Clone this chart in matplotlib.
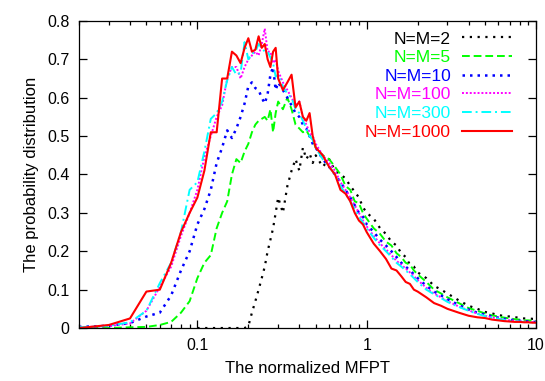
import matplotlib
matplotlib.use("Agg")
import matplotlib.pyplot as plt
from matplotlib.ticker import FixedLocator, FuncFormatter, LogLocator, NullFormatter

plt.rcParams["font.family"] = ["Liberation Sans", "DejaVu Sans"]

nan = float("nan")

# shared x grid (normalized MFPT)
x = [0.02, 0.03, 0.04, 0.05, 0.06, 0.07, 0.08, 0.09, 0.10, 0.11, 0.12, 0.13, 0.14, 0.15,
     0.16, 0.17, 0.18, 0.19, 0.20, 0.21, 0.22, 0.23, 0.24, 0.25, 0.26, 0.27, 0.28, 0.29, 0.30,
     0.32, 0.34, 0.36, 0.38, 0.40, 0.42, 0.44, 0.46, 0.48, 0.50,
     0.55, 0.60, 0.65, 0.70, 0.75, 0.80, 0.85, 0.90, 0.95, 1.0,
     1.1, 1.2, 1.3, 1.4, 1.5, 1.6, 1.7, 1.8, 1.9, 2.0,
     2.25, 2.5, 2.75, 3.0,
     3.5, 4.0, 4.5, 5.0, 5.5, 6.0, 6.5, 7.0, 7.5, 8.0, 8.5, 9.0, 9.5, 10.0]

y_n2 = [nan, nan, nan, nan, nan, nan, nan, nan, 0.0, 0.0, 0.0, 0.0, 0.0, 0.0,
        0.0, 0.0, 0.0, 0.0, 0.005, 0.04, 0.07, 0.10, 0.13, 0.16, 0.20, 0.23, 0.26, 0.30, 0.34,
        0.30, 0.37, 0.41, 0.44, 0.41, 0.47, 0.44, 0.455, 0.43, 0.45,
        0.42, 0.44, 0.41, 0.40, 0.39, 0.37, 0.355, 0.34, 0.315, 0.30,
        0.285, 0.26, 0.245, 0.225, 0.215, 0.195, 0.185, 0.165, 0.16, 0.145,
        0.13, 0.11, 0.10, 0.09,
        0.072, 0.058, 0.05, 0.042, 0.038, 0.034, 0.031, 0.03, 0.028, 0.027, 0.025, 0.025, 0.024, 0.024]

y_n5 = [0.0, 0.0, 0.002, 0.003, 0.008, 0.016, 0.04, 0.07, 0.13, 0.17, 0.19, 0.26, 0.30, 0.33,
        0.40, 0.44, 0.43, 0.46, 0.48, 0.51, 0.53, 0.54, 0.545, 0.55, 0.54, 0.57, 0.51, 0.56, 0.59,
        0.57, 0.60, 0.57, 0.53, 0.52, 0.51, 0.515, 0.50, 0.49, 0.47,
        0.45, 0.44, 0.42, 0.40, 0.37, 0.36, 0.33, 0.325, 0.30, 0.285,
        0.26, 0.245, 0.225, 0.215, 0.195, 0.185, 0.17, 0.165, 0.15, 0.14,
        0.12, 0.10, 0.09, 0.08,
        0.065, 0.052, 0.045, 0.038, 0.033, 0.03, 0.027, 0.025, 0.023, 0.022, 0.02, 0.02, 0.019, 0.018]

y_n10 = [0.003, 0.006, 0.013, 0.03, 0.04, 0.085, 0.15, 0.20, 0.27, 0.31, 0.36, 0.43, 0.47, 0.515,
         0.495, 0.52, 0.55, 0.585, 0.63, 0.64, 0.625, 0.62, 0.60, 0.585, 0.61, 0.66, 0.68, 0.62, 0.64,
         0.62, 0.60, 0.58, 0.56, 0.55, 0.53, 0.52, 0.50, 0.48, 0.47,
         0.44, 0.42, 0.40, 0.38, 0.36, 0.34, 0.32, 0.30, 0.29, 0.27,
         0.25, 0.23, 0.215, 0.20, 0.185, 0.17, 0.16, 0.15, 0.14, 0.13,
         0.11, 0.095, 0.085, 0.075,
         0.06, 0.048, 0.04, 0.035, 0.03, 0.027, 0.024, 0.022, 0.02, 0.019, 0.018, 0.017, 0.016, 0.016]

y_n100 = [0.002, 0.005, 0.012, 0.045, 0.107, 0.16, 0.24, 0.30, 0.36, 0.445, 0.50, 0.55, 0.58, 0.65,
          0.68, 0.68, 0.65, 0.68, 0.70, 0.71, 0.72, 0.71, 0.74, 0.78, 0.72, 0.72, 0.69, 0.70, 0.67,
          0.64, 0.62, 0.60, 0.58, 0.59, 0.55, 0.53, 0.51, 0.50, 0.48,
          0.45, 0.43, 0.41, 0.38, 0.36, 0.34, 0.32, 0.30, 0.28, 0.265,
          0.24, 0.22, 0.205, 0.19, 0.175, 0.165, 0.155, 0.145, 0.135, 0.125,
          0.105, 0.09, 0.08, 0.07,
          0.056, 0.046, 0.038, 0.032, 0.028, 0.025, 0.022, 0.02, 0.019, 0.018, 0.017, 0.016, 0.015, 0.015]

y_n300 = [0.002, 0.006, 0.015, 0.045, 0.117, 0.17, 0.25, 0.36, 0.38, 0.46, 0.545, 0.56, 0.59, 0.645,
          0.68, 0.66, 0.665, 0.745, 0.70, 0.715, 0.72, 0.74, 0.73, 0.72, 0.72, 0.705, 0.69, 0.655, 0.66,
          0.63, 0.61, 0.60, 0.57, 0.56, 0.54, 0.52, 0.50, 0.49, 0.47,
          0.44, 0.42, 0.40, 0.37, 0.35, 0.33, 0.31, 0.29, 0.275, 0.26,
          0.235, 0.215, 0.20, 0.185, 0.17, 0.16, 0.15, 0.14, 0.13, 0.12,
          0.10, 0.088, 0.078, 0.068,
          0.055, 0.045, 0.037, 0.031, 0.027, 0.024, 0.021, 0.019, 0.018, 0.017, 0.016, 0.015, 0.015, 0.014]

y_n1000 = [0.0, 0.008, 0.025, 0.095, 0.10, 0.17, 0.25, 0.30, 0.34, 0.41, 0.51, 0.51, 0.65, 0.65,
           0.72, 0.71, 0.69, 0.73, 0.755, 0.72, 0.725, 0.76, 0.73, 0.74, 0.70, 0.68, 0.72, 0.73, 0.65,
           0.62, 0.64, 0.66, 0.575, 0.59, 0.55, 0.54, 0.56, 0.50, 0.47,
           0.45, 0.42, 0.40, 0.36, 0.35, 0.33, 0.30, 0.28, 0.27, 0.25,
           0.22, 0.20, 0.18, 0.155, 0.15, 0.135, 0.12, 0.115, 0.10, 0.095,
           0.08, 0.065, 0.058, 0.05,
           0.04, 0.032, 0.028, 0.026, 0.022, 0.02, 0.018, 0.017, 0.016, 0.016, 0.015, 0.015, 0.014, 0.014]

labels = ["N=M=2", "N=M=5", "N=M=10", "N=M=100", "N=M=300", "N=M=1000"]
series = [y_n2, y_n5, y_n10, y_n100, y_n300, y_n1000]
colors = ["#000000", "#00ff00", "#0000ff", "#ff00ff", "#00ffff", "#ff0000"]
styles = [(0, (1, 2.5)), (0, (4, 2)), (0, (1, 2)), (0, (1, 1)), (0, (5, 2, 1, 2)), "-"]
widths = [1.6, 1.4, 1.8, 1.4, 1.4, 1.5]

fig = plt.figure(figsize=(5.45, 3.81), dpi=100)
ax = fig.add_axes([0.145, 0.139, 0.8385, 0.806])

for ys, lab, c, ls, lw in zip(series, labels, colors, styles, widths):
    ax.plot(x, ys, color=c, linestyle=ls, linewidth=lw, label=lab)

ax.set_xscale("log")
ax.set_xlim(0.02, 10)
ax.set_ylim(0, 0.8)

ax.xaxis.set_major_locator(FixedLocator([0.1, 1, 10]))
ax.xaxis.set_major_formatter(FuncFormatter(lambda v, p: "%g" % v))
ax.xaxis.set_minor_locator(LogLocator(base=10, subs=range(2, 10), numticks=20))
ax.xaxis.set_minor_formatter(NullFormatter())
ax.yaxis.set_major_locator(FixedLocator([0, 0.1, 0.2, 0.3, 0.4, 0.5, 0.6, 0.7, 0.8]))
ax.yaxis.set_major_formatter(FuncFormatter(lambda v, p: "%g" % round(v, 2)))

ax.tick_params(which="both", direction="in", top=True, right=True, labelsize=11.5)
ax.tick_params(which="major", length=6, width=0.9, pad=7)
ax.tick_params(which="minor", length=3, width=0.9)
for sp in ax.spines.values():
    sp.set_linewidth(0.9)

ax.set_xlabel("The normalized MFPT", fontsize=12, labelpad=6)
ax.set_ylabel("The probability distribution", fontsize=12, labelpad=6)

leg = ax.legend(loc="upper right", bbox_to_anchor=(0.97, 1.0), frameon=False,
                markerfirst=False, labelcolor="linecolor", fontsize=12.5,
                handlelength=2.9, handletextpad=0.6, labelspacing=0.2,
                borderaxespad=0.2)
for t in leg.get_texts():
    t.set_ha("right")
leg._legend_box.align = "right"

fig.savefig("out.png", dpi=100)
